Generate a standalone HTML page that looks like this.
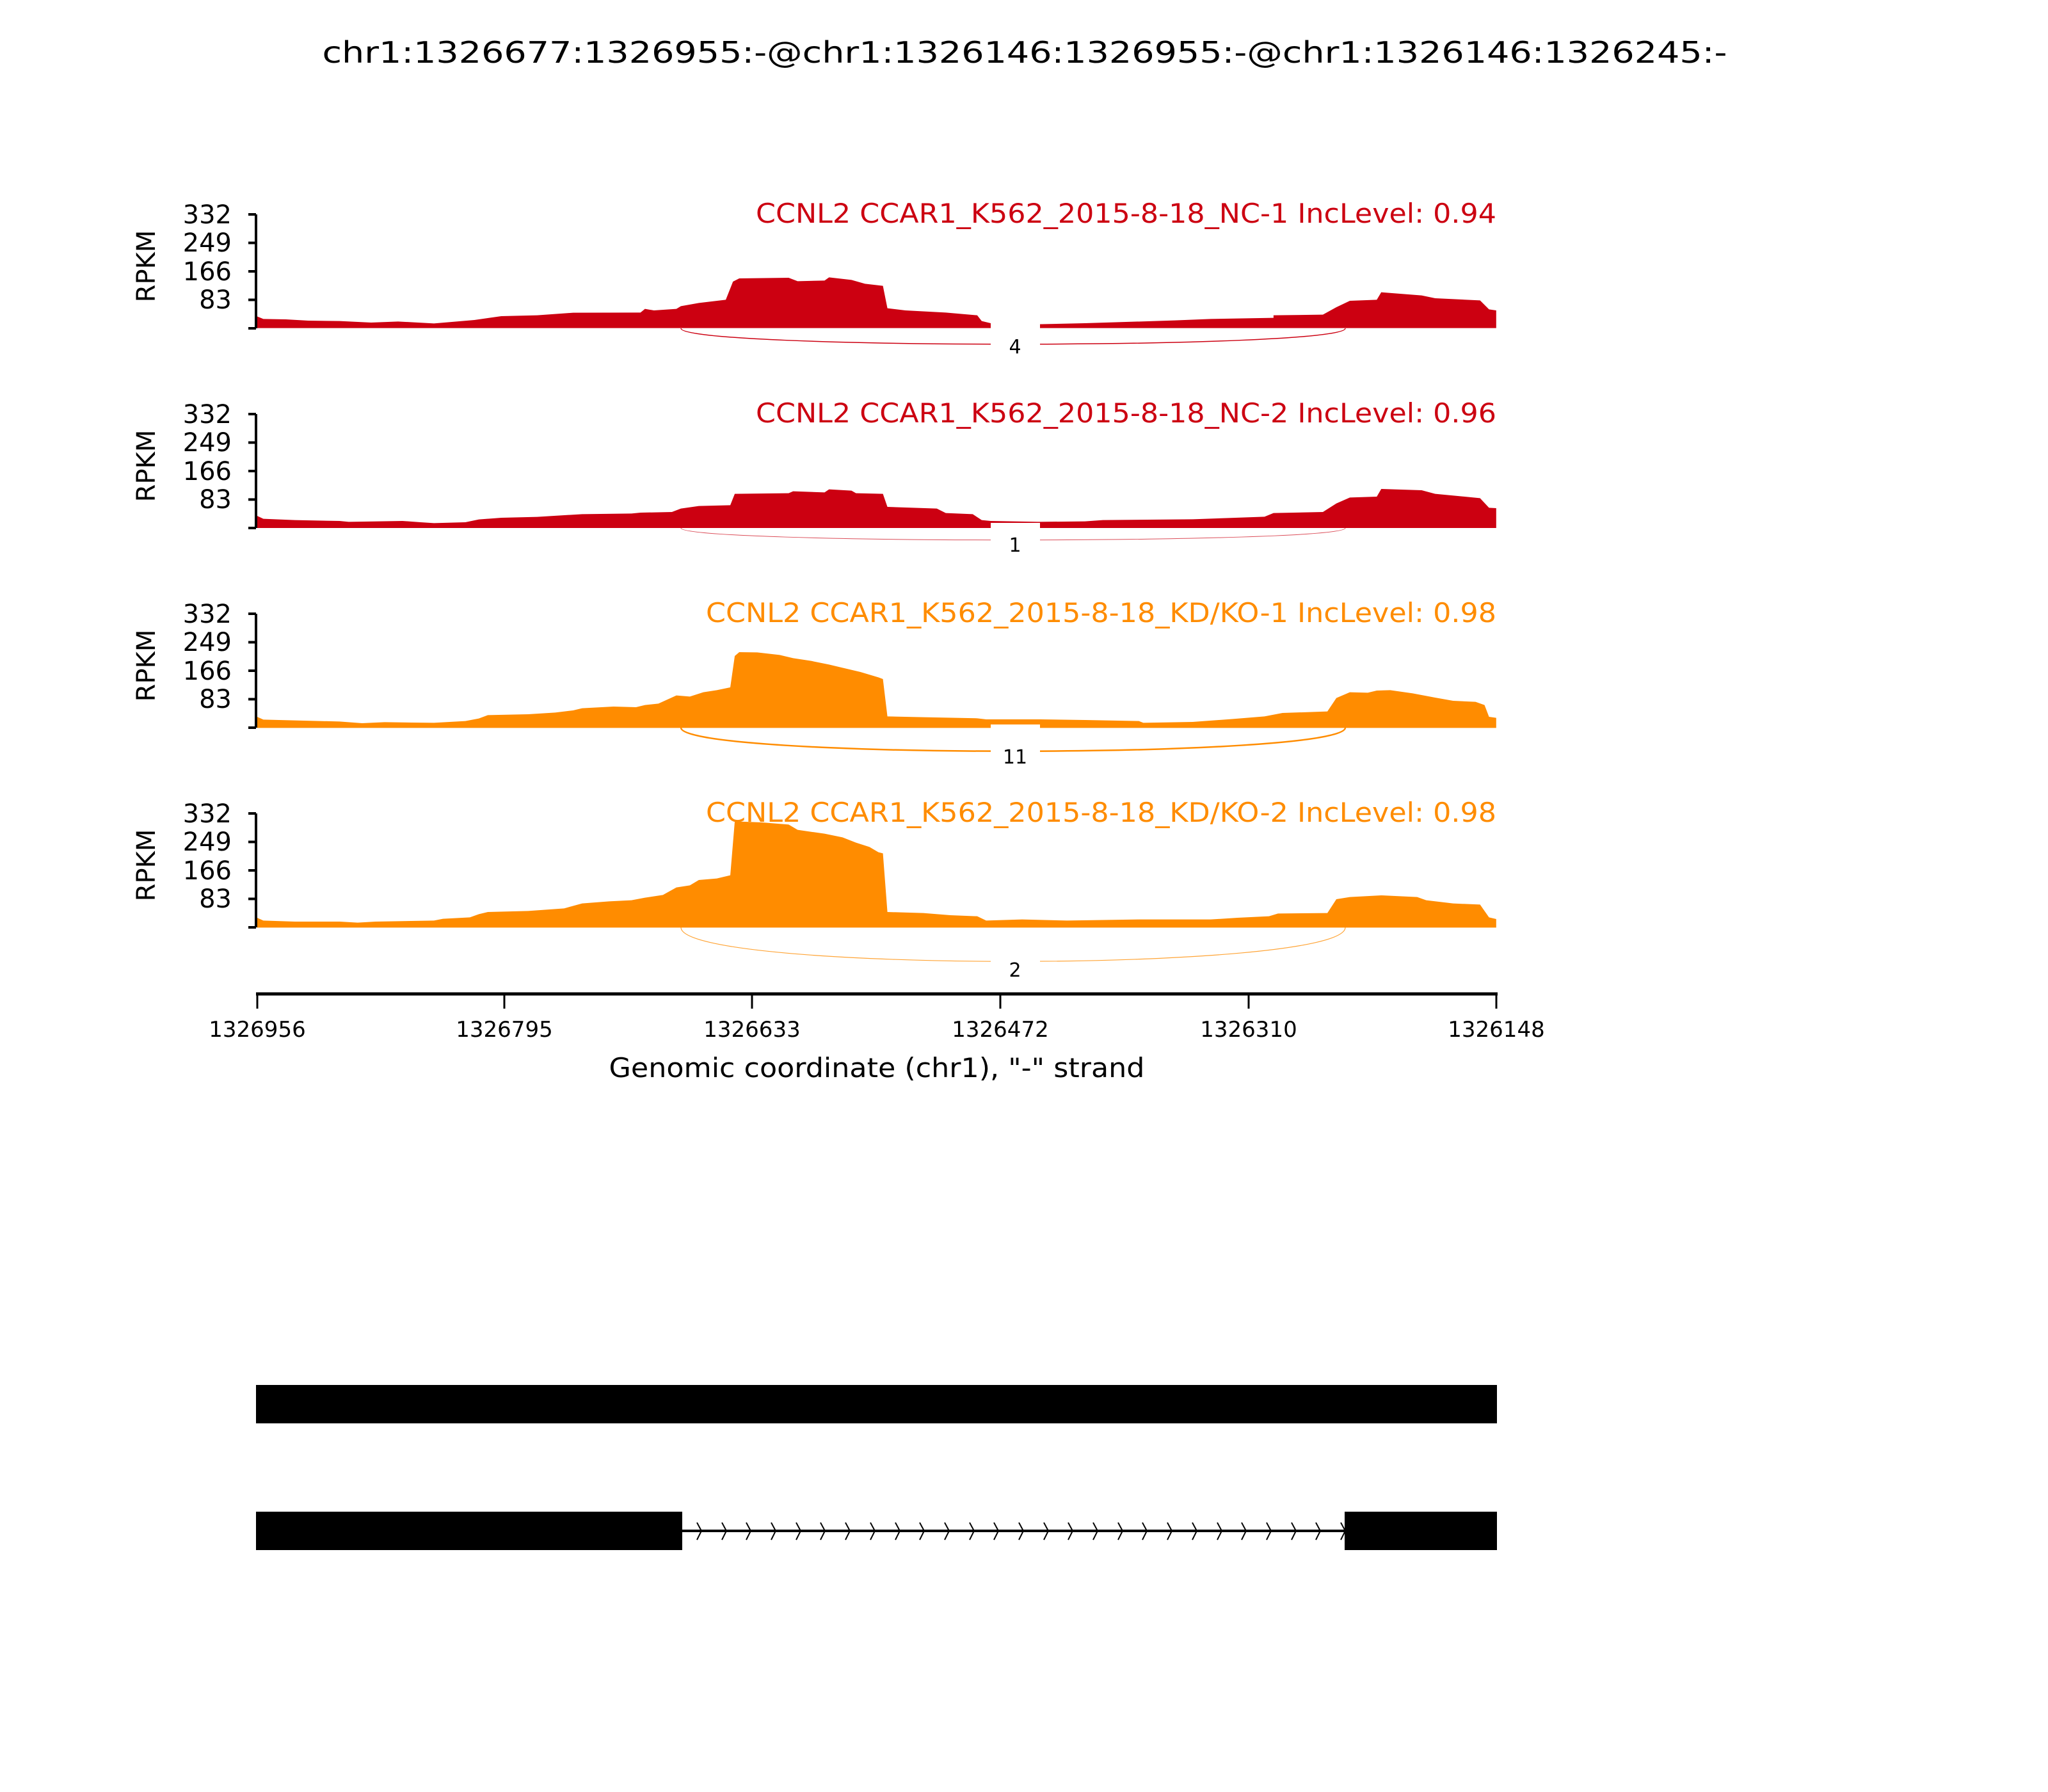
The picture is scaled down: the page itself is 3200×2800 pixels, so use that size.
<!DOCTYPE html>
<html><head><meta charset="utf-8"><style>html,body{margin:0;padding:0;background:#fff}svg{display:block}text{font-family:"DejaVu Sans","Liberation Sans",sans-serif}</style></head>
<body>
<svg width="3200" height="2800" viewBox="0 0 3200 2800" xmlns="http://www.w3.org/2000/svg">
<rect width="3200" height="2800" fill="#fff"/>
<text x="1601" y="98" font-size="46" text-anchor="middle" textLength="2195" lengthAdjust="spacingAndGlyphs">chr1:1326677:1326955:-@chr1:1326146:1326955:-@chr1:1326146:1326245:-</text>

<g transform="translate(180,300) scale(1.403,0.333333)">
<path fill="#CC0011" d="M158,638 L158,583 165,595 190,597 215,603 250,605 285,612 315,607 355,616 400,600 430,582 470,578 510,566 585,565 590,548 600,555 625,548 630,535 650,520 680,505 688,420 695,405 750,402 760,418 790,415 795,400 820,412 835,430 855,440 860,545 880,555 925,565 960,578 965,605 975,615 1028,620 1080,615 1180,602 1220,595 1290,590 1290,578 1345,575 1360,540 1375,510 1405,505 1410,470 1455,485 1470,498 1520,508 1530,550 1538,555 1538,638 Z"/>
</g>
<g transform="translate(180,620) scale(1.403,0.333333)">
<path fill="#CC0011" d="M158,615 L158,558 165,572 200,578 250,582 260,586 320,582 340,588 355,592 390,588 405,575 430,567 470,563 520,550 575,547 585,543 620,540 630,524 650,512 685,508 690,455 750,452 755,443 790,448 795,434 820,440 825,452 855,455 860,516 915,524 925,545 955,550 965,578 975,582 1028,586 1080,584 1100,578 1200,574 1240,568 1280,562 1290,545 1345,540 1360,500 1375,472 1405,468 1410,432 1455,438 1470,455 1520,475 1530,520 1538,522 1538,615 Z"/>
</g>
<g transform="translate(180,930) scale(1.403,0.333333)">
<path fill="#FF8C00" d="M158,622 L158,570 165,583 210,588 250,592 275,600 300,595 330,597 355,598 390,590 405,578 415,562 460,558 490,550 510,540 520,530 555,522 580,525 590,515 605,508 625,470 640,475 655,455 670,445 685,432 690,285 695,267 715,268 740,280 755,295 775,308 795,325 810,340 830,360 850,385 855,393 860,568 900,572 960,577 970,582 1030,582 1080,585 1140,590 1145,598 1200,594 1245,580 1280,568 1300,552 1350,545 1360,482 1375,455 1395,457 1405,447 1420,445 1445,460 1470,480 1490,495 1515,500 1525,515 1530,570 1538,575 1538,622 Z"/>
</g>
<g transform="translate(180,1220) scale(1.403,0.333333)">
<path fill="#FF8C00" d="M158,688 L158,642 165,655 200,660 250,660 270,665 290,660 355,655 365,647 395,640 405,625 415,615 460,610 500,598 520,575 550,565 575,560 590,548 610,535 625,500 640,490 650,465 670,458 685,443 690,190 720,195 750,205 760,230 790,248 810,265 825,290 840,310 850,335 855,340 860,615 900,620 930,630 960,635 970,655 1010,650 1060,655 1140,650 1220,650 1250,642 1285,635 1295,622 1350,620 1360,555 1375,545 1410,537 1450,545 1460,560 1490,575 1520,580 1530,640 1538,648 1538,688 Z"/>
</g>

<g fill="none">
<path d="M1064,513 C1064,546 2102,546 2102,513" stroke="#CC0011" stroke-width="1.5"/>
<path d="M1064,825 C1064,850 2102,850 2102,825" stroke="#CC0011" stroke-width="1" stroke-opacity="0.7"/>
<path d="M1064,1137 C1064,1186 2102,1186 2102,1137" stroke="#FF8C00" stroke-width="2.5"/>
<path d="M1064,1449 C1064,1520 2102,1520 2102,1449" stroke="#FF8C00" stroke-width="1.2" stroke-opacity="0.8"/>
</g>
<g fill="#fff">
<rect x="1548" y="505" width="77" height="60"/>
<rect x="1548" y="817" width="77" height="50"/>
<rect x="1548" y="1132" width="77" height="70"/>
<rect x="1548" y="1480" width="77" height="50"/>
</g>
<g font-size="30" text-anchor="middle">
<text x="1586" y="552">4</text>
<text x="1586" y="862">1</text>
<text x="1586" y="1193">11</text>
<text x="1586" y="1526">2</text>
</g>

<g font-size="42" text-anchor="end">
<text x="2338" y="348" fill="#CC0011" textLength="1157" lengthAdjust="spacingAndGlyphs">CCNL2 CCAR1_K562_2015-8-18_NC-1 IncLevel: 0.94</text>
<text x="2338" y="660" fill="#CC0011" textLength="1157" lengthAdjust="spacingAndGlyphs">CCNL2 CCAR1_K562_2015-8-18_NC-2 IncLevel: 0.96</text>
<text x="2338" y="972" fill="#FF8C00" textLength="1235" lengthAdjust="spacingAndGlyphs">CCNL2 CCAR1_K562_2015-8-18_KD/KO-1 IncLevel: 0.98</text>
<text x="2338" y="1284" fill="#FF8C00" textLength="1235" lengthAdjust="spacingAndGlyphs">CCNL2 CCAR1_K562_2015-8-18_KD/KO-2 IncLevel: 0.98</text>
</g>

<g stroke="#000" stroke-width="4">
<path d="M400,335 V513 M388,335 H400 M388,379.5 H400 M388,424 H400 M388,468.5 H400 M388,513 H400"/>
<path d="M400,647 V825 M388,647 H400 M388,691.5 H400 M388,736 H400 M388,780.5 H400 M388,825 H400"/>
<path d="M400,959 V1137 M388,959 H400 M388,1003.5 H400 M388,1048 H400 M388,1092.5 H400 M388,1137 H400"/>
<path d="M400,1271 V1449 M388,1271 H400 M388,1315.5 H400 M388,1360 H400 M388,1404.5 H400 M388,1449 H400"/>
</g>
<g font-size="40" text-anchor="end">
<text x="362" y="349">332</text><text x="362" y="393">249</text><text x="362" y="438">166</text><text x="362" y="482">83</text>
<text x="362" y="661">332</text><text x="362" y="705">249</text><text x="362" y="750">166</text><text x="362" y="794">83</text>
<text x="362" y="973">332</text><text x="362" y="1017">249</text><text x="362" y="1062">166</text><text x="362" y="1106">83</text>
<text x="362" y="1285">332</text><text x="362" y="1329">249</text><text x="362" y="1374">166</text><text x="362" y="1418">83</text>
</g>
<g font-size="40" text-anchor="middle">
<text transform="translate(242,416) rotate(-90)">RPKM</text>
<text transform="translate(242,728) rotate(-90)">RPKM</text>
<text transform="translate(242,1040) rotate(-90)">RPKM</text>
<text transform="translate(242,1352) rotate(-90)">RPKM</text>
</g>

<g stroke="#000">
<path d="M400,1553 H2340" stroke-width="5"/>
<path d="M402,1553 V1576 M788,1553 V1576 M1175,1553 V1576 M1563,1553 V1576 M1951,1553 V1576 M2338,1553 V1576" stroke-width="3"/>
</g>
<g font-size="34" text-anchor="middle">
<text x="402" y="1620">1326956</text>
<text x="788" y="1620">1326795</text>
<text x="1175" y="1620">1326633</text>
<text x="1563" y="1620">1326472</text>
<text x="1951" y="1620">1326310</text>
<text x="2338" y="1620">1326148</text>
</g>
<text x="1370" y="1683" font-size="42" text-anchor="middle" textLength="837" lengthAdjust="spacingAndGlyphs">Genomic coordinate (chr1), "-" strand</text>

<rect x="400" y="2164" width="1939" height="60" fill="#000"/>
<rect x="400" y="2362" width="666" height="60" fill="#000"/>
<rect x="2101" y="2362" width="238" height="60" fill="#000"/>
<path d="M1066,2392 H2101" stroke="#000" stroke-width="4"/>
<path fill="none" stroke="#000" stroke-width="2" d="M1089,2379 L1096,2392 L1089,2406 M1128,2379 L1135,2392 L1128,2406 M1166,2379 L1173,2392 L1166,2406 M1205,2379 L1212,2392 L1205,2406 M1244,2379 L1251,2392 L1244,2406 M1282,2379 L1289,2392 L1282,2406 M1321,2379 L1328,2392 L1321,2406 M1360,2379 L1367,2392 L1360,2406 M1399,2379 L1406,2392 L1399,2406 M1437,2379 L1444,2392 L1437,2406 M1476,2379 L1483,2392 L1476,2406 M1515,2379 L1522,2392 L1515,2406 M1553,2379 L1560,2392 L1553,2406 M1592,2379 L1599,2392 L1592,2406 M1631,2379 L1638,2392 L1631,2406 M1669,2379 L1676,2392 L1669,2406 M1708,2379 L1715,2392 L1708,2406 M1747,2379 L1754,2392 L1747,2406 M1785,2379 L1792,2392 L1785,2406 M1824,2379 L1831,2392 L1824,2406 M1863,2379 L1870,2392 L1863,2406 M1902,2379 L1909,2392 L1902,2406 M1940,2379 L1947,2392 L1940,2406 M1979,2379 L1986,2392 L1979,2406 M2018,2379 L2025,2392 L2018,2406 M2056,2379 L2063,2392 L2056,2406 M2095,2379 L2102,2392 L2095,2406"/>
</svg>
</body></html>
